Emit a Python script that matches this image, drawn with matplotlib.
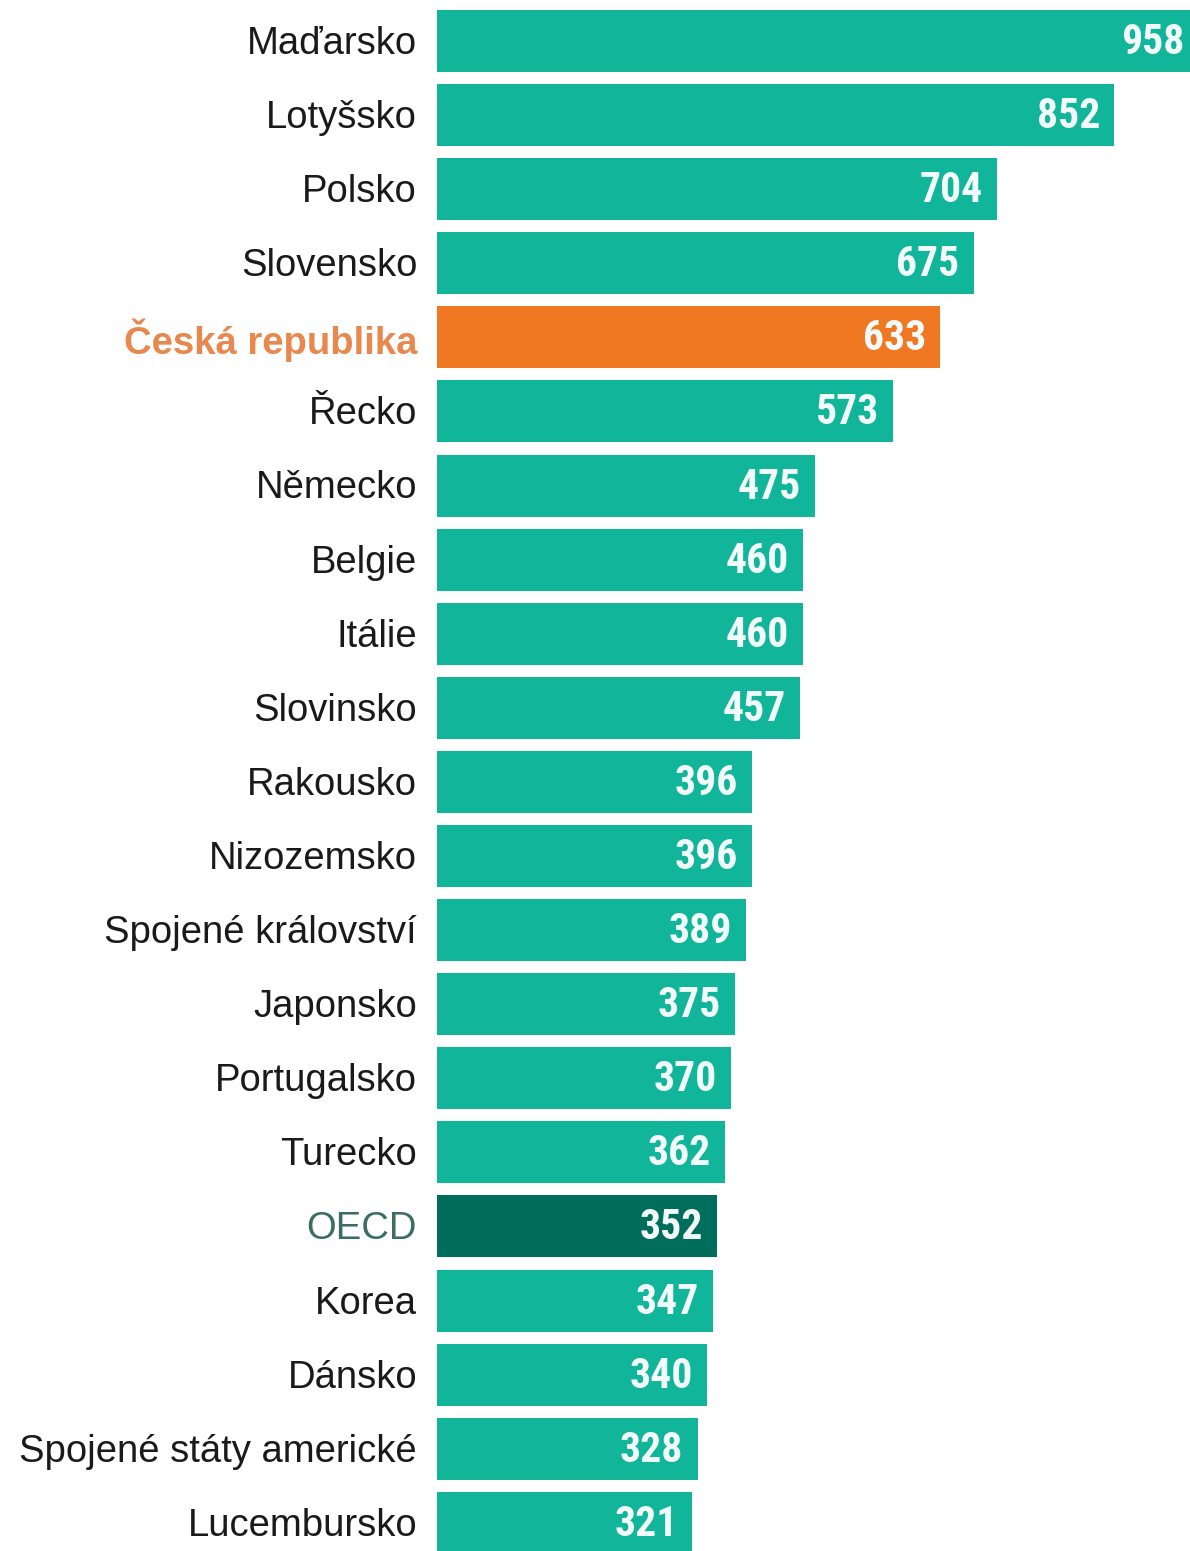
import matplotlib
matplotlib.use("Agg")
import matplotlib.pyplot as plt
from matplotlib import font_manager

countries = ["Maďarsko", "Lotyšsko", "Polsko", "Slovensko", "Česká republika", "Řecko",
             "Německo", "Belgie", "Itálie", "Slovinsko", "Rakousko", "Nizozemsko",
             "Spojené království", "Japonsko", "Portugalsko", "Turecko", "OECD", "Korea",
             "Dánsko", "Spojené státy americké", "Lucembursko"]
values = [958, 852, 704, 675, 633, 573, 475, 460, 460, 457, 396, 396,
          389, 375, 370, 362, 352, 347, 340, 328, 321]

TEAL = "#10b59a"
bar_colors = {"Česká republika": "#f07822", "OECD": "#006e5b"}
label_colors = {"Česká republika": "#e8884e", "OECD": "#3a6e62"}

# condensed bold for the numbers, whatever is installed
names = {f.name for f in font_manager.fontManager.ttflist}
num_family = [f for f in ["Roboto Condensed", "Liberation Sans Narrow", "DejaVu Sans"] if f in names]

fig = plt.figure(figsize=(11.9, 15.51), dpi=100)
ax = fig.add_axes([437 / 1190, 0, 1 - 437 / 1190, 1])

y = list(range(len(countries)))
cols = [bar_colors.get(c, TEAL) for c in countries]
ax.barh(y, values, height=0.837, color=cols)

ax.set_xlim(0, 947)
ax.set_ylim(20.38, -0.553)
ax.axis("off")

for i, (c, v) in enumerate(zip(countries, values)):
    ax.text(-25, i + 0.04, c, ha="right", va="center", fontsize=27.5,
            family="Liberation Sans", color=label_colors.get(c, "#1a1a1a"),
            fontweight="bold" if c == "Česká republika" else "normal")
    ax.text(v - 18, i + 0.02, str(v), ha="right", va="center", fontsize=30,
            family=num_family, fontweight="bold", fontstretch="condensed",
            color="#f2fbfa")

fig.savefig("out.png", dpi=100)
